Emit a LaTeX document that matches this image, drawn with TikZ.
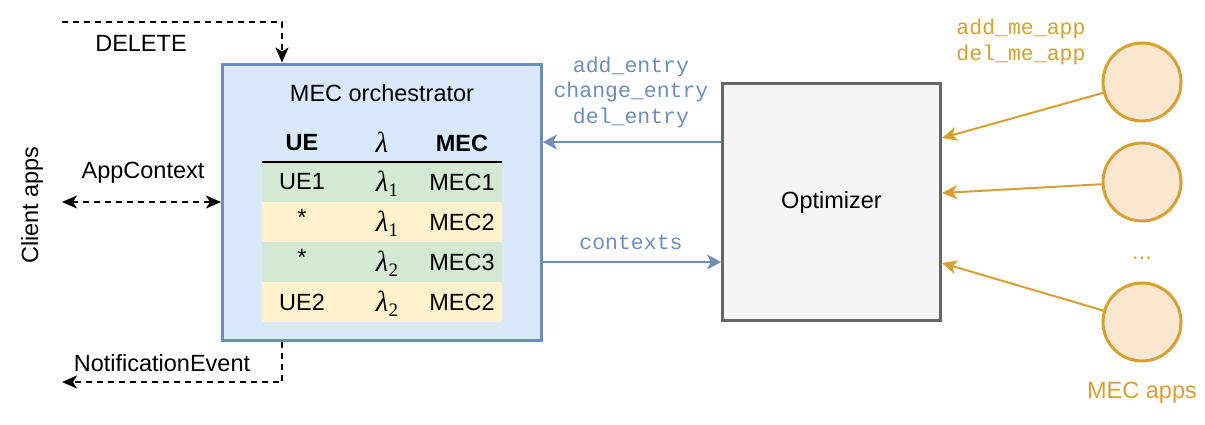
\documentclass[tikz,border=0pt]{standalone}
\usepackage{fontspec}
\setmainfont{Liberation Sans}
\setmonofont{Liberation Mono}
\newfontfamily\lamfont{Liberation Serif}
\usetikzlibrary{arrows.meta}
\definecolor{blueline}{HTML}{6C8EBF}
\definecolor{bluefill}{HTML}{DAE8FC}
\definecolor{greenfill}{HTML}{D5E8D4}
\definecolor{yellowfill}{HTML}{FFF2CC}
\definecolor{grayline}{HTML}{666666}
\definecolor{grayfill}{HTML}{F5F5F5}
\definecolor{appline}{HTML}{D6A033}
\definecolor{appfill}{HTML}{FBE6D0}
\newcommand{\lamsym}{{\fontsize{29}{32}\selectfont\lamfont\itshape λ}}
\newcommand{\lamsub}[1]{{\lamsym}\raisebox{-5pt}{\fontsize{19}{21}\selectfont\lamfont #1}}
\tikzset{
  sf/.style={font=\fontsize{23.5}{28}\selectfont, inner sep=0pt},
  lam/.style={inner sep=0pt, anchor=base},
  tt/.style={font=\fontsize{21.5}{25}\selectfont\ttfamily, inner sep=0pt},
  orchbox/.style={draw=blueline, fill=bluefill, line width=3pt, minimum width=319pt, minimum height=276pt, inner sep=0pt},
  optbox/.style={draw=grayline, fill=grayfill, line width=3pt, minimum width=218pt, minimum height=237pt, inner sep=0pt, font=\fontsize{23.5}{28}\selectfont},
  appnode/.style={circle, draw=appline, fill=appfill, line width=3pt, minimum size=78pt, inner sep=0pt},
  rowbox/.style={minimum width=240pt, minimum height=40pt, inner sep=0pt, draw=none},
  darrow/.style={draw=black, line width=1.8pt, dash pattern=on 6pt off 5pt, -{Stealth[length=15pt,width=13pt,inset=4pt]}},
  darrowboth/.style={draw=black, line width=1.8pt, dash pattern=on 6pt off 5pt, {Stealth[length=15pt,width=13pt,inset=4pt]}-{Stealth[length=15pt,width=13pt,inset=4pt]}},
  barrow/.style={draw=blueline, line width=2.5pt, -{Stealth[length=14pt,width=15pt,inset=4pt]}},
  oarrow/.style={draw=appline, line width=2pt, -{Stealth[length=15pt,width=14pt,inset=4pt]}},
}
\begin{document}
\begin{tikzpicture}[x=1pt,y=-1pt]
\useasboundingbox (0,0) rectangle (1205,424);

% orchestrator
\node[orchbox] (orch) at (382,202) {};
\node[sf] (title) at (382,93) {MEC orchestrator};

% table
\node[rowbox, fill=greenfill] (r1) at (382,182) {};
\node[rowbox, fill=yellowfill] (r2) at (382,222) {};
\node[rowbox, fill=greenfill] (r3) at (382,262) {};
\node[rowbox, fill=yellowfill] (r4) at (382,302) {};
\draw[line width=2pt] (r1.north west) -- (r1.north east);

\node[sf] (h1) at (302,143) {\textbf{UE}};
\node[lam] (h2) at (382,152) {\lamsym};
\node[sf] (h3) at (462,143) {\textbf{MEC}};

\node[sf] (c11) at (302,182) {UE1};
\node[lam] (c12) at (387,191) {\lamsub{1}};
\node[sf] (c13) at (462,182) {MEC1};
\node[sf] (c21) at (302,217) {*};
\node[lam] (c22) at (387,231) {\lamsub{1}};
\node[sf] (c23) at (462,222) {MEC2};
\node[sf] (c31) at (302,257) {*};
\node[lam] (c32) at (387,271) {\lamsub{2}};
\node[sf] (c33) at (462,262) {MEC3};
\node[sf] (c41) at (302,302) {UE2};
\node[lam] (c42) at (387,311) {\lamsub{2}};
\node[sf] (c43) at (462,302) {MEC2};

% client side
\node[sf, rotate=90] (client) at (32,205) {Client apps};
\coordinate (delsrc) at (62,22);
\coordinate (ctxend) at (62,202);
\coordinate (notend) at (62,382);
\draw[darrow] (delsrc) -| ([xshift=-100pt]orch.north);
\node[sf] (dellbl) at (141,43) {DELETE};
\draw[darrowboth] (ctxend) -- (orch.west);
\node[sf] (ctxlbl) at (143,173) {AppContext};
\draw[darrow] ([xshift=-100pt]orch.south) |- (notend);
\node[sf] (notlbl) at (162,363) {NotificationEvent};

% optimizer
\node[optbox] (opt) at (831.5,202) {Optimizer};
\draw[barrow] ([yshift=60pt]opt.west) -- ([yshift=60pt]opt.west -| orch.east);
\draw[barrow] ([yshift=-60pt]orch.east) -- ([yshift=-60pt]orch.east -| opt.west);
\node[tt, text=blueline] (l1) at (631,67) {add\_entry};
\node[tt, text=blueline] (l2) at (631,92) {change\_entry};
\node[tt, text=blueline] (l3) at (631,118) {del\_entry};
\node[tt, text=blueline] (l4) at (631,242) {contexts};

% MEC apps
\node[appnode] (a1) at (1142,82) {};
\node[appnode] (a2) at (1142,182) {};
\node[appnode] (a3) at (1142,322) {};
\node[sf, text=appline] (dots) at (1142,258) {...};
\node[sf, text=appline] (appslbl) at (1142,393) {MEC apps};
\node[tt, text=appline] (m1) at (1021,29) {add\_me\_app};
\node[tt, text=appline] (m2) at (1021,55) {del\_me\_app};
\draw[oarrow] (a1) -- ([yshift=64pt]opt.east);
\draw[oarrow] (a2) -- ([yshift=9pt]opt.east);
\draw[oarrow] (a3) -- ([yshift=-61pt]opt.east);
\end{tikzpicture}
\end{document}
